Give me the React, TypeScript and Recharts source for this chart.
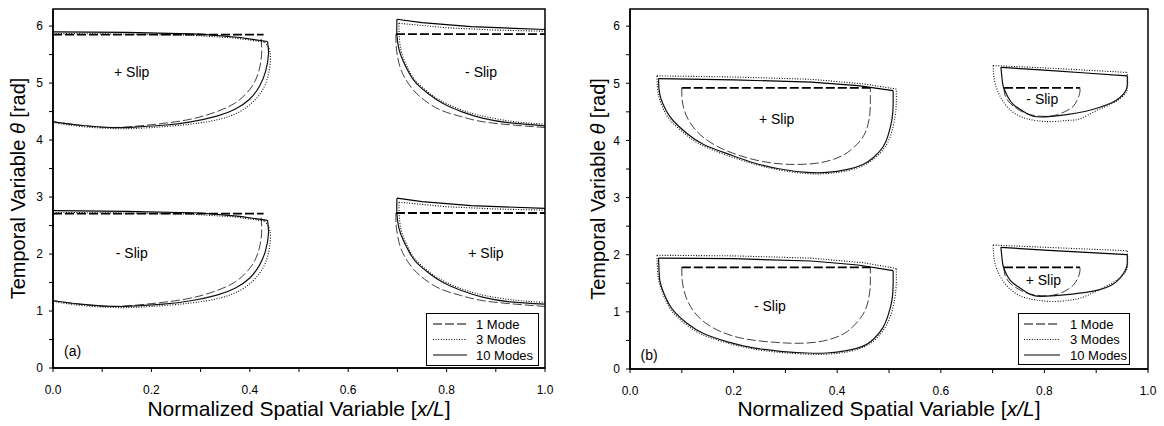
import React from 'react';
import { ComposedChart, Line, Scatter, XAxis, YAxis, Legend, ReferenceArea } from 'recharts';

type P = [number, number];

// ---- panel (a) : x/L, theta pairs ----
const a1SolidTop: P[] = [[0, 5.9], [0.15, 5.89], [0.3, 5.86], [0.38, 5.8], [0.436, 5.73]];
const a1SolidArc: P[] = [[0.436, 5.73], [0.438, 5.5], [0.432, 5.2], [0.42, 4.95], [0.4, 4.72], [0.37, 4.54], [0.333, 4.42], [0.28, 4.32], [0.224, 4.26], [0.17, 4.23], [0.123, 4.22], [0.055, 4.26], [0, 4.32]];
const a1DashTop: P[] = [[0, 5.85], [0.428, 5.85]];
const a1DashArc: P[] = [[0.423, 5.78], [0.424, 5.5], [0.418, 5.2], [0.405, 4.95], [0.385, 4.75], [0.36, 4.6], [0.32, 4.46], [0.27, 4.35], [0.2, 4.27], [0.12, 4.22], [0.055, 4.26], [0, 4.32]];
const a1DotTop: P[] = [[0, 5.87], [0.15, 5.86], [0.28, 5.84], [0.37, 5.79], [0.43, 5.72]];
const a1DotArc: P[] = [[0.43, 5.72], [0.441, 5.55], [0.44, 5.25], [0.43, 4.95], [0.41, 4.7], [0.38, 4.5], [0.34, 4.37], [0.28, 4.28], [0.2, 4.22], [0.13, 4.2], [0.055, 4.24], [0, 4.31]];

const a2SolidTop: P[] = [[0, 2.76], [0.15, 2.75], [0.3, 2.72], [0.38, 2.66], [0.436, 2.59]];
const a2SolidArc: P[] = [[0.436, 2.59], [0.438, 2.36], [0.432, 2.06], [0.42, 1.81], [0.4, 1.58], [0.37, 1.4], [0.333, 1.28], [0.28, 1.18], [0.224, 1.12], [0.17, 1.09], [0.123, 1.08], [0.055, 1.12], [0, 1.18]];
const a2DashTop: P[] = [[0, 2.71], [0.428, 2.71]];
const a2DashArc: P[] = [[0.423, 2.64], [0.424, 2.36], [0.418, 2.06], [0.405, 1.81], [0.385, 1.61], [0.36, 1.46], [0.32, 1.32], [0.27, 1.21], [0.2, 1.13], [0.12, 1.08], [0.055, 1.12], [0, 1.18]];
const a2DotTop: P[] = [[0, 2.73], [0.15, 2.72], [0.28, 2.7], [0.37, 2.65], [0.43, 2.58]];
const a2DotArc: P[] = [[0.43, 2.58], [0.441, 2.41], [0.44, 2.11], [0.43, 1.81], [0.41, 1.56], [0.38, 1.36], [0.34, 1.23], [0.28, 1.14], [0.2, 1.08], [0.13, 1.06], [0.055, 1.1], [0, 1.17]];

const a3SolidTop: P[] = [[0.699, 6.12], [0.75, 6.06], [0.85, 5.99], [1, 5.94]];
const a3SolidArc: P[] = [[0.699, 6.12], [0.699, 5.85], [0.703, 5.6], [0.712, 5.38], [0.725, 5.16], [0.739, 4.99], [0.765, 4.8], [0.793, 4.64], [0.83, 4.5], [0.875, 4.38], [0.93, 4.3], [1, 4.25]];
const a3DashTop: P[] = [[0.697, 5.86], [1, 5.86]];
const a3DashArc: P[] = [[0.697, 5.86], [0.698, 5.6], [0.705, 5.29], [0.716, 5.08], [0.732, 4.88], [0.755, 4.7], [0.787, 4.53], [0.83, 4.41], [0.875, 4.32], [0.94, 4.26], [1, 4.22]];
const a3DotTop: P[] = [[0.703, 6.05], [0.8, 5.97], [0.9, 5.93], [1, 5.91]];
const a3DotArc: P[] = [[0.703, 6.05], [0.704, 5.8], [0.708, 5.55], [0.718, 5.32], [0.73, 5.12], [0.745, 4.97], [0.77, 4.79], [0.8, 4.64], [0.84, 4.5], [0.885, 4.4], [0.94, 4.32], [1, 4.28]];

const a4SolidTop: P[] = [[0.699, 2.98], [0.75, 2.92], [0.85, 2.85], [1, 2.8]];
const a4SolidArc: P[] = [[0.699, 2.98], [0.699, 2.71], [0.703, 2.46], [0.712, 2.24], [0.725, 2.02], [0.739, 1.85], [0.765, 1.66], [0.793, 1.5], [0.83, 1.36], [0.875, 1.24], [0.93, 1.16], [1, 1.12]];
const a4DashTop: P[] = [[0.697, 2.72], [1, 2.72]];
const a4DashArc: P[] = [[0.697, 2.72], [0.698, 2.46], [0.705, 2.15], [0.716, 1.94], [0.732, 1.74], [0.755, 1.56], [0.787, 1.39], [0.83, 1.27], [0.875, 1.18], [0.94, 1.12], [1, 1.08]];
const a4DotTop: P[] = [[0.703, 2.91], [0.8, 2.83], [0.9, 2.79], [1, 2.77]];
const a4DotArc: P[] = [[0.703, 2.91], [0.704, 2.66], [0.708, 2.41], [0.718, 2.18], [0.73, 1.98], [0.745, 1.83], [0.77, 1.65], [0.8, 1.5], [0.84, 1.36], [0.885, 1.26], [0.94, 1.19], [1, 1.15]];

// ---- panel (b) ----
const b1SolidTop: P[] = [[0.055, 5.08], [0.2, 5.06], [0.35, 5.02], [0.44, 4.96], [0.508, 4.87]];
const b1SolidArc: P[] = [[0.055, 5.08], [0.056, 4.9], [0.06, 4.72], [0.07, 4.52], [0.084, 4.34], [0.11, 4.12], [0.142, 3.93], [0.19, 3.76], [0.238, 3.61], [0.29, 3.5], [0.341, 3.44], [0.38, 3.44], [0.418, 3.49], [0.45, 3.58], [0.47, 3.7], [0.488, 3.88], [0.499, 4.11], [0.506, 4.38], [0.508, 4.63], [0.508, 4.87]];
const b1DashTop: P[] = [[0.1, 4.92], [0.464, 4.92]];
const b1DashArc: P[] = [[0.1, 4.92], [0.101, 4.69], [0.108, 4.45], [0.123, 4.22], [0.145, 4.03], [0.174, 3.87], [0.21, 3.74], [0.251, 3.64], [0.29, 3.59], [0.322, 3.58], [0.36, 3.6], [0.393, 3.67], [0.42, 3.79], [0.444, 3.99], [0.457, 4.2], [0.463, 4.46], [0.464, 4.7], [0.464, 4.92]];
const b1DotTop: P[] = [[0.052, 5.13], [0.2, 5.11], [0.35, 5.07], [0.45, 4.99], [0.514, 4.9]];
const b1DotArc: P[] = [[0.052, 5.13], [0.053, 4.92], [0.057, 4.72], [0.067, 4.5], [0.082, 4.31], [0.108, 4.1], [0.14, 3.91], [0.19, 3.73], [0.238, 3.59], [0.29, 3.48], [0.341, 3.42], [0.38, 3.42], [0.42, 3.47], [0.452, 3.57], [0.474, 3.7], [0.492, 3.88], [0.504, 4.11], [0.511, 4.38], [0.514, 4.63], [0.514, 4.9]];

const b2SolidTop: P[] = [[0.055, 1.94], [0.2, 1.93], [0.35, 1.89], [0.44, 1.82], [0.508, 1.72]];
const b2SolidArc: P[] = [[0.055, 1.94], [0.056, 1.74], [0.058, 1.53], [0.068, 1.27], [0.084, 1.02], [0.11, 0.8], [0.142, 0.62], [0.19, 0.47], [0.238, 0.37], [0.29, 0.31], [0.341, 0.28], [0.38, 0.28], [0.418, 0.32], [0.45, 0.4], [0.47, 0.52], [0.488, 0.72], [0.499, 0.96], [0.506, 1.22], [0.508, 1.48], [0.508, 1.72]];
const b2DashTop: P[] = [[0.1, 1.78], [0.464, 1.78]];
const b2DashArc: P[] = [[0.1, 1.78], [0.101, 1.53], [0.108, 1.26], [0.123, 1.01], [0.145, 0.81], [0.174, 0.66], [0.21, 0.55], [0.251, 0.49], [0.29, 0.46], [0.322, 0.45], [0.36, 0.47], [0.393, 0.54], [0.42, 0.66], [0.444, 0.88], [0.457, 1.1], [0.463, 1.36], [0.464, 1.58], [0.464, 1.78]];
const b2DotTop: P[] = [[0.052, 1.99], [0.2, 1.98], [0.35, 1.94], [0.45, 1.86], [0.514, 1.76]];
const b2DotArc: P[] = [[0.052, 1.99], [0.053, 1.76], [0.056, 1.53], [0.066, 1.26], [0.082, 1.0], [0.108, 0.78], [0.14, 0.6], [0.19, 0.45], [0.238, 0.35], [0.29, 0.29], [0.341, 0.26], [0.38, 0.26], [0.42, 0.3], [0.452, 0.39], [0.474, 0.52], [0.492, 0.72], [0.504, 0.96], [0.511, 1.22], [0.514, 1.48], [0.514, 1.76]];

const b3SolidTop: P[] = [[0.716, 5.28], [0.8, 5.23], [0.88, 5.18], [0.96, 5.13]];
const b3SolidArc: P[] = [[0.716, 5.28], [0.718, 5.1], [0.721, 4.93], [0.729, 4.77], [0.74, 4.63], [0.766, 4.47], [0.792, 4.41], [0.843, 4.45], [0.88, 4.51], [0.907, 4.58], [0.93, 4.66], [0.946, 4.75], [0.957, 4.87], [0.96, 4.98], [0.96, 5.13]];
const b3DashTop: P[] = [[0.722, 4.92], [0.869, 4.92]];
const b3DashArc: P[] = [[0.722, 4.92], [0.723, 4.83], [0.727, 4.73], [0.735, 4.64], [0.746, 4.56], [0.76, 4.49], [0.778, 4.44], [0.803, 4.42], [0.825, 4.45], [0.843, 4.52], [0.856, 4.6], [0.864, 4.72], [0.868, 4.82], [0.869, 4.92]];
const b3DotTop: P[] = [[0.701, 5.31], [0.8, 5.27], [0.88, 5.23], [0.96, 5.19]];
const b3DotArc: P[] = [[0.701, 5.31], [0.702, 5.15], [0.705, 4.99], [0.713, 4.8], [0.727, 4.6], [0.745, 4.46], [0.766, 4.38], [0.79, 4.34], [0.817, 4.33], [0.845, 4.35], [0.869, 4.38], [0.9, 4.52], [0.93, 4.64], [0.95, 4.76], [0.96, 4.9], [0.96, 5.19]];

const b4SolidTop: P[] = [[0.716, 2.13], [0.8, 2.08], [0.88, 2.04], [0.96, 2.0]];
const b4SolidArc: P[] = [[0.716, 2.13], [0.718, 1.95], [0.721, 1.78], [0.729, 1.62], [0.74, 1.5], [0.766, 1.34], [0.792, 1.27], [0.843, 1.3], [0.88, 1.34], [0.907, 1.39], [0.93, 1.47], [0.946, 1.59], [0.957, 1.74], [0.96, 1.86], [0.96, 2.0]];
const b4DashTop: P[] = [[0.722, 1.78], [0.869, 1.78]];
const b4DashArc: P[] = [[0.722, 1.78], [0.723, 1.68], [0.727, 1.58], [0.735, 1.49], [0.746, 1.42], [0.76, 1.35], [0.778, 1.3], [0.803, 1.28], [0.825, 1.31], [0.843, 1.38], [0.856, 1.47], [0.864, 1.58], [0.868, 1.68], [0.869, 1.78]];
const b4DotTop: P[] = [[0.701, 2.17], [0.8, 2.13], [0.88, 2.1], [0.96, 2.07]];
const b4DotArc: P[] = [[0.701, 2.17], [0.702, 2.0], [0.705, 1.84], [0.713, 1.65], [0.727, 1.46], [0.745, 1.32], [0.766, 1.24], [0.79, 1.2], [0.817, 1.18], [0.845, 1.2], [0.869, 1.24], [0.9, 1.36], [0.93, 1.5], [0.95, 1.63], [0.96, 1.78], [0.96, 2.07]];

// region labels
const labelsA = [
  { x: 0.16, y: 5.2, text: '+ Slip' },
  { x: 0.87, y: 5.2, text: '- Slip' },
  { x: 0.16, y: 2.01, text: '- Slip' },
  { x: 0.88, y: 2.01, text: '+ Slip' },
  { x: 0.04, y: 0.29, text: '(a)' },
];
const labelsB = [
  { x: 0.283, y: 4.37, text: '+ Slip' },
  { x: 0.796, y: 4.72, text: '- Slip' },
  { x: 0.27, y: 1.1, text: '- Slip' },
  { x: 0.798, y: 1.55, text: '+ Slip' },
  { x: 0.037, y: 0.25, text: '(b)' },
];

const xTicks = [0, 0.1, 0.2, 0.3, 0.4, 0.5, 0.6, 0.7, 0.8, 0.9, 1.0];
const yTicks = [0, 0.5, 1, 1.5, 2, 2.5, 3, 3.5, 4, 4.5, 5, 5.5, 6];
const modeNames = ['1 Mode', '3 Modes', '10 Modes'];

const FONT = '"Liberation Sans", Arial, Helvetica, sans-serif';
const toPts = (arr: P[]) => arr.map(([x, y]) => ({ x, y }));

const styles: Record<string, { dash?: string; topW: number; arcW: number }> = {
  dash: { dash: '9 3', topW: 1.8, arcW: 0.8 },
  dot: { dash: '1 1.6', topW: 1.1, arcW: 1.1 },
  solid: { topW: 1.2, arcW: 1.2 },
};

type Region = { id: string; mode: 'dash' | 'dot' | 'solid'; top: P[]; arc: P[] };

const regionsA: Region[] = [
  { id: 'a1d', mode: 'dash', top: a1DashTop, arc: a1DashArc },
  { id: 'a1o', mode: 'dot', top: a1DotTop, arc: a1DotArc },
  { id: 'a1s', mode: 'solid', top: a1SolidTop, arc: a1SolidArc },
  { id: 'a2d', mode: 'dash', top: a2DashTop, arc: a2DashArc },
  { id: 'a2o', mode: 'dot', top: a2DotTop, arc: a2DotArc },
  { id: 'a2s', mode: 'solid', top: a2SolidTop, arc: a2SolidArc },
  { id: 'a3d', mode: 'dash', top: a3DashTop, arc: a3DashArc },
  { id: 'a3o', mode: 'dot', top: a3DotTop, arc: a3DotArc },
  { id: 'a3s', mode: 'solid', top: a3SolidTop, arc: a3SolidArc },
  { id: 'a4d', mode: 'dash', top: a4DashTop, arc: a4DashArc },
  { id: 'a4o', mode: 'dot', top: a4DotTop, arc: a4DotArc },
  { id: 'a4s', mode: 'solid', top: a4SolidTop, arc: a4SolidArc },
];
const regionsB: Region[] = [
  { id: 'b1d', mode: 'dash', top: b1DashTop, arc: b1DashArc },
  { id: 'b1o', mode: 'dot', top: b1DotTop, arc: b1DotArc },
  { id: 'b1s', mode: 'solid', top: b1SolidTop, arc: b1SolidArc },
  { id: 'b2d', mode: 'dash', top: b2DashTop, arc: b2DashArc },
  { id: 'b2o', mode: 'dot', top: b2DotTop, arc: b2DotArc },
  { id: 'b2s', mode: 'solid', top: b2SolidTop, arc: b2SolidArc },
  { id: 'b3d', mode: 'dash', top: b3DashTop, arc: b3DashArc },
  { id: 'b3o', mode: 'dot', top: b3DotTop, arc: b3DotArc },
  { id: 'b3s', mode: 'solid', top: b3SolidTop, arc: b3SolidArc },
  { id: 'b4d', mode: 'dash', top: b4DashTop, arc: b4DashArc },
  { id: 'b4o', mode: 'dot', top: b4DotTop, arc: b4DotArc },
  { id: 'b4s', mode: 'solid', top: b4SolidTop, arc: b4SolidArc },
];

function regionLines(r: Region) {
  const s = styles[r.mode];
  return [
    <Line key={r.id + 't'} data={toPts(r.top)} dataKey="y" type="linear" stroke="#000" strokeWidth={s.topW}
      strokeDasharray={s.dash} dot={false} activeDot={false} isAnimationActive={false} legendType="none" />,
    <Line key={r.id + 'a'} data={toPts(r.arc)} dataKey="y" type="natural" stroke="#111" strokeWidth={s.arcW}
      strokeDasharray={s.dash} dot={false} activeDot={false} isAnimationActive={false} legendType="none" />,
  ];
}

const SlipText = (props: any) => (
  <text x={props.cx} y={props.cy} textAnchor="middle" dominantBaseline="central" fontSize={14} fontFamily={FONT} fill="#000">
    {props.payload.text}
  </text>
);

const LegendBox = ({ w, h, lineX, textX }: { w: number; h: number; lineX: [number, number]; textX: number }) => {
  const rows = [11, 26.5, 42];
  const dashes = ['9 3', '1 1.6', undefined];
  return (
    <svg width={w} height={h} style={{ display: 'block' }}>
      <rect x={0.5} y={0.5} width={w - 1} height={h - 1} fill="#fff" stroke="#000" strokeWidth={1} />
      {modeNames.map((m, i) => (
        <g key={m}>
          <line x1={lineX[0]} x2={lineX[1]} y1={rows[i]} y2={rows[i]} stroke="#000" strokeWidth={i === 1 ? 1.1 : 1} strokeDasharray={dashes[i]} />
          <text x={textX} y={rows[i]} dominantBaseline="central" fontSize={13} fontFamily={FONT} fill="#000">{m}</text>
        </g>
      ))}
    </svg>
  );
};

type PanelProps = {
  left: number; width: number; margin: { top: number; right: number; bottom: number; left: number };
  regions: Region[]; labels: { x: number; y: number; text: string }[];
  yLabelX: number; legend: { left: number; w: number; h: number; lineX: [number, number]; textX: number };
};

function Panel({ left, width, margin, regions, labels, yLabelX, legend }: PanelProps) {
  return (
    <div style={{ position: 'absolute', left, top: 0, width, height: 426 }}>
      <ComposedChart width={width} height={426} margin={margin}>
        <XAxis type="number" dataKey="x" domain={[0, 1]} ticks={xTicks} interval={0} height={30}
          tickFormatter={(v: number) => (Math.round(v * 10) % 2 === 0 ? v.toFixed(1) : '')}
          tick={{ fontSize: 12, fontFamily: FONT, fill: '#000' }} tickSize={4} tickMargin={13}
          axisLine={{ stroke: '#000', strokeWidth: 1.5 }} tickLine={{ stroke: '#000', strokeWidth: 1 }}
          label={{
            content: (p: any) => {
              const vb = p.viewBox;
              return (
                <text x={vb.x + vb.width / 2} y={408} textAnchor="middle" dominantBaseline="central" fontSize={21} fontFamily={FONT} fill="#000">
                  Normalized Spatial Variable [<tspan fontStyle="italic">x/L</tspan>]
                </text>
              );
            },
          }} />
        <YAxis type="number" domain={[0, 6.3]} ticks={yTicks} interval={0} width={30}
          tickFormatter={(v: number) => (Number.isInteger(v) ? String(v) : '')}
          tick={{ fontSize: 12, fontFamily: FONT, fill: '#000' }} tickSize={4} tickMargin={6}
          axisLine={{ stroke: '#000', strokeWidth: 1.5 }} tickLine={{ stroke: '#000', strokeWidth: 1 }}
          label={{
            content: (p: any) => {
              const vb = p.viewBox;
              const cy = vb.y + vb.height / 2;
              return (
                <text x={yLabelX} y={cy} transform={`rotate(-90, ${yLabelX}, ${cy})`} textAnchor="middle" dominantBaseline="central" fontSize={20} fontFamily={FONT} fill="#000">
                  Temporal Variable <tspan fontStyle="italic">θ</tspan> [rad]
                </text>
              );
            },
          }} />
        <ReferenceArea x1={0} x2={1} y1={0} y2={6.3} fill="none" stroke="#000" strokeWidth={1.5} />
        {regions.flatMap(regionLines)}
        <Scatter data={labels} dataKey="y" shape={SlipText} isAnimationActive={false} legendType="none" />
        <Legend layout="horizontal" verticalAlign="middle" align="center"
          wrapperStyle={{ left: legend.left, top: 313, width: legend.w, height: legend.h }}
          content={() => <LegendBox w={legend.w} h={legend.h} lineX={legend.lineX} textX={legend.textX} />} />
      </ComposedChart>
    </div>
  );
}

export default function App() {
  return (
    <div style={{ position: 'absolute', left: 0, top: 0, width: 1164, height: 426, background: '#fff' }}>
      <Panel left={0} width={580} margin={{ top: 9, right: 35, bottom: 28, left: 23 }}
        regions={regionsA} labels={labelsA} yLabelX={18}
        legend={{ left: 426, w: 113, h: 53, lineX: [7, 41], textX: 50 }} />
      <Panel left={582} width={582} margin={{ top: 9, right: 16, bottom: 27, left: 18 }}
        regions={regionsB} labels={labelsB} yLabelX={16}
        legend={{ left: 436, w: 112, h: 52, lineX: [6, 42], textX: 52 }} />
    </div>
  );
}
